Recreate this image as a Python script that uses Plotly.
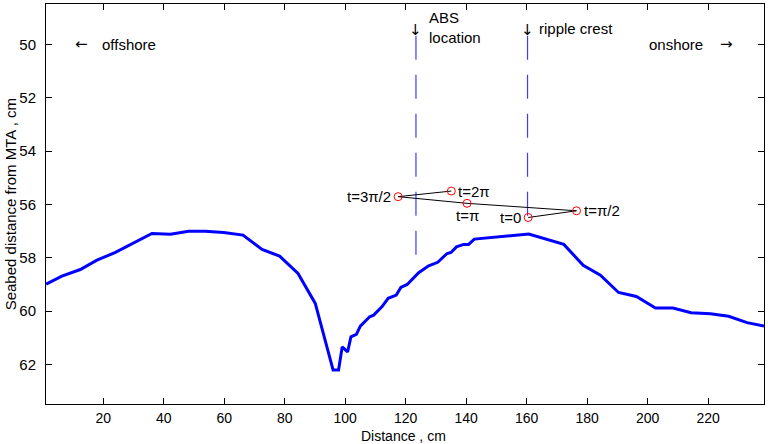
import plotly.graph_objects as go

# Seabed profile (distance cm, depth from MTA cm)
profile_x = [1.1, 6.3, 12.4, 17.9, 24.0, 30.0, 36.1, 42.2, 48.2, 53.7, 59.8, 66.2, 72.5, 78.3,
             84.4, 90.1, 96.0, 97.8, 99.0, 100.8, 101.9, 103.7, 105.0, 108.1, 109.4, 112.2,
             114.2, 116.9, 118.4, 120.5, 124.3, 127.6, 130.6, 133.7, 135.0, 136.8, 139.2,
             140.8, 142.7, 160.7, 172.3, 178.7, 184.4, 190.4, 196.3, 202.6, 208.4, 214.4,
             220.8, 226.8, 232.9, 238.5]
profile_y = [58.99, 58.69, 58.44, 58.09, 57.80, 57.44, 57.09, 57.12, 57.01, 57.01, 57.05, 57.15,
             57.69, 57.94, 58.59, 59.71, 62.21, 62.21, 61.34, 61.53, 60.96, 60.87, 60.56, 60.21,
             60.15, 59.83, 59.52, 59.40, 59.11, 59.00, 58.56, 58.30, 58.17, 57.84, 57.80, 57.59,
             57.50, 57.50, 57.30, 57.11, 57.50, 58.28, 58.65, 59.30, 59.45, 59.88, 59.88, 60.06,
             60.10, 60.19, 60.43, 60.56]

# Orbit phases
phase_labels = ["t=0", "t=π/2", "t=π", "t=3π/2", "t=2π"]
phase_x = [160.5, 176.5, 140.3, 117.5, 135.1]
phase_y = [56.49, 56.24, 55.96, 55.71, 55.50]

# Reference lines
abs_x = 123.4
abs_y = [49.68, 58.02]
crest_x = 160.3
crest_y = [49.68, 56.46]

fig = go.Figure()

fig.add_trace(go.Scatter(x=[abs_x, abs_x], y=abs_y, mode="lines",
                         line=dict(color="#3c3cff", width=1.2, dash="24px,15px"),
                         showlegend=False, hoverinfo="skip"))
fig.add_trace(go.Scatter(x=[crest_x, crest_x], y=crest_y, mode="lines",
                         line=dict(color="#3c3cff", width=1.2, dash="24px,15px"),
                         showlegend=False, hoverinfo="skip"))

fig.add_trace(go.Scatter(x=profile_x, y=profile_y, mode="lines",
                         line=dict(color="#0000ff", width=3),
                         showlegend=False))

fig.add_trace(go.Scatter(x=phase_x, y=phase_y, mode="lines",
                         line=dict(color="black", width=1),
                         showlegend=False))
fig.add_trace(go.Scatter(x=phase_x, y=phase_y, mode="markers",
                         marker=dict(symbol="circle-open", size=8, color="red",
                                     line=dict(width=1, color="red")),
                         showlegend=False))

FAM = "Liberation Sans, Arial, sans-serif"
font = dict(family=FAM, size=15, color="black")
tickfont = dict(family=FAM, size=15, color="black")
xtickfont = dict(family=FAM, size=14, color="black")
titlefont = dict(family=FAM, size=14, color="black")
arrowfont = dict(family="DejaVu Sans", size=15, color="black")

# phase labels
label_pos = [
    (phase_x[0], phase_y[0], "right", -5, 0),
    (phase_x[1], phase_y[1], "left", 5, 0),
    (phase_x[2], phase_y[2], "center", 0, 12),
    (phase_x[3], phase_y[3], "right", -5, 0),
    (phase_x[4], phase_y[4], "left", 5, 0),
]
for (x, y, xa, dx, dy), txt in zip(label_pos, phase_labels):
    fig.add_annotation(x=x, y=y, text=txt, showarrow=False, xanchor=xa, yanchor="middle",
                       xshift=dx, yshift=-dy, font=font)

fig.add_annotation(x=abs_x, y=49.46, text="↓", showarrow=False, xanchor="center",
                   yanchor="middle", font=arrowfont)
fig.add_annotation(x=127.2, y=49.36, text="ABS<br>location", showarrow=False,
                   xanchor="left", yanchor="middle", align="left", font=font)
fig.add_annotation(x=crest_x, y=49.46, text="↓", showarrow=False, xanchor="center",
                   yanchor="middle", font=arrowfont)
fig.add_annotation(x=163.5, y=49.4, text="ripple crest", showarrow=False,
                   xanchor="left", yanchor="middle", font=font)
fig.add_annotation(x=12.7, y=50.0, text="←", showarrow=False,
                   xanchor="center", yanchor="middle", font=arrowfont)
fig.add_annotation(x=19.0, y=50.0, text="offshore", showarrow=False,
                   xanchor="left", yanchor="middle", font=font)
fig.add_annotation(x=219.1, y=50.0, text="onshore", showarrow=False,
                   xanchor="right", yanchor="middle", font=font)
fig.add_annotation(x=226.1, y=50.0, text="→", showarrow=False,
                   xanchor="center", yanchor="middle", font=arrowfont)

# axis titles
fig.add_annotation(xref="paper", yref="paper", x=0.4976, y=-0.079, text="Distance , cm",
                   showarrow=False, xanchor="center", yanchor="middle", font=titlefont,
                   borderpad=0)
fig.add_annotation(xref="paper", yref="paper", x=-0.0497, y=0.5,
                   text="Seabed distance from MTA , cm", textangle=-90,
                   showarrow=False, xanchor="center", yanchor="middle", font=font)

axis_common = dict(showgrid=False, zeroline=False, showline=True, linecolor="black",
                   linewidth=1, mirror="ticks", ticks="inside", ticklen=6,
                   tickcolor="black")

fig.update_xaxes(range=[1.05, 238.5], tickvals=list(range(20, 221, 20)),
                 ticklabelstandoff=1, tickfont=xtickfont, **axis_common)
fig.update_yaxes(range=[63.48, 48.49], tickvals=list(range(50, 63, 2)),
                 ticklabelstandoff=6, tickfont=tickfont, **axis_common)

fig.update_layout(width=768, height=444, margin=dict(l=46, r=4, t=4, b=40),
                  plot_bgcolor="white", paper_bgcolor="white", font=font)

fig.write_html("out.html", config={"displayModeBar": False},
               post_script="document.body.style.margin='0';document.body.style.padding='0';")
